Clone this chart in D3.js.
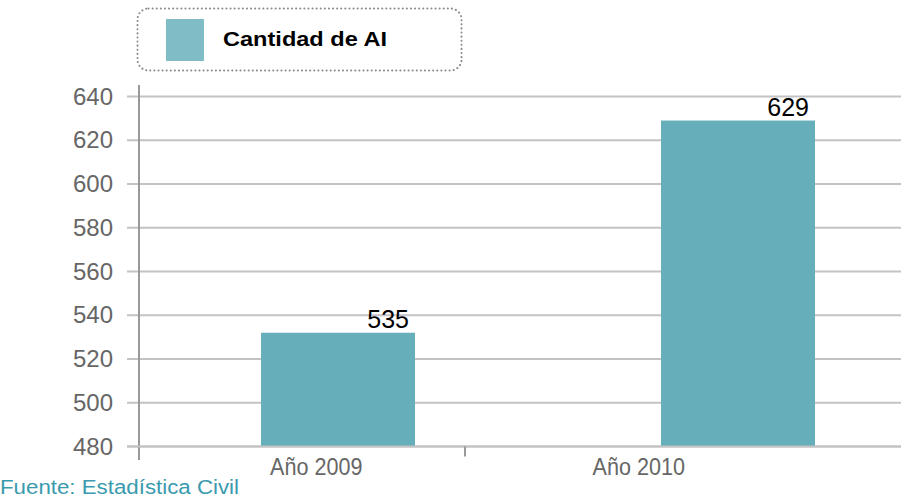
<!DOCTYPE html>
<html>
<head>
<meta charset="utf-8">
<script src="https://cdn.jsdelivr.net/npm/d3@7"></script>
<style>
  body { margin: 0; background: #fff; }
  svg { display: block; font-family: "Liberation Sans", Helvetica, Arial, sans-serif; }
</style>
</head>
<body>
<div id="chart"></div>
<script>
// Bar chart "Cantidad de AI"
var categories = ["Año 2009", "Año 2010"];
var barValues  = [532, 629];          // bar heights as drawn
var valueLabels = ["535", "629"];     // labels printed above the bars
var yTicks = [480, 500, 520, 540, 560, 580, 600, 620, 640];
var seriesName = "Cantidad de AI";
var sourceText = "Fuente: Estadística Civil";

var width = 901, height = 497;

var svg = d3.select("#chart").append("svg")
    .attr("width", width)
    .attr("height", height);

var y = d3.scaleLinear()
    .domain([480, 640])
    .range([446.5, 96.5]);

// bars
var xBar = d3.scaleBand()
    .domain(categories)
    .range([141, 935])
    .paddingInner(0.615)
    .paddingOuter(0.3);

// category labels sit a bit left of the bars
var xLabel = d3.scaleBand()
    .domain(categories)
    .range([155, 800]);

// gridlines
svg.append("g").selectAll("line")
    .data(yTicks)
    .join("line")
    .attr("x1", 127)
    .attr("x2", width)
    .attr("y1", function (d) { return y(d); })
    .attr("y2", function (d) { return y(d); })
    .style("stroke", "#c3c3c6")
    .style("stroke-width", 2);

// y axis
var yAxis = d3.axisLeft(y)
    .tickValues(yTicks)
    .tickSize(0)
    .tickPadding(26);

var gy = svg.append("g")
    .attr("transform", "translate(139,0)")
    .call(yAxis);
gy.select(".domain").remove();
gy.selectAll("text")
    .style("font-size", "24px")
    .style("fill", "#666")
    .style("font-family", "Liberation Sans, Helvetica, Arial, sans-serif");

svg.append("line")
    .attr("x1", 139).attr("x2", 139)
    .attr("y1", 85).attr("y2", 460)
    .style("stroke", "#999")
    .style("stroke-width", 2);

// bars
svg.append("g").selectAll("rect")
    .data(barValues)
    .join("rect")
    .attr("x", function (d, i) { return xBar(categories[i]); })
    .attr("width", xBar.bandwidth())
    .attr("y", function (d) { return y(d); })
    .attr("height", function (d) { return y(480) - y(d); })
    .style("fill", "#66aeba");

// value labels
svg.append("g").selectAll("text")
    .data(barValues)
    .join("text")
    .attr("x", function (d, i) { return xBar(categories[i]) + xBar.bandwidth() - 6; })
    .attr("y", function (d) { return y(d) - 5; })
    .attr("text-anchor", "end")
    .style("font-size", "25px")
    .style("fill", "#000")
    .text(function (d, i) { return valueLabels[i]; });

// x axis
svg.append("line")
    .attr("x1", 127).attr("x2", width)
    .attr("y1", y(480)).attr("y2", y(480))
    .style("stroke", "#c3c3c6")
    .style("stroke-width", 2);

svg.append("line")
    .attr("x1", 465).attr("x2", 465)
    .attr("y1", y(480)).attr("y2", y(480) + 10)
    .style("stroke", "#999")
    .style("stroke-width", 2);

// the category labels are a bit narrow in the original
svg.append("g").selectAll("text")
    .data(categories)
    .join("text")
    .attr("transform", function (d) {
      return "translate(" + (xLabel(d) + xLabel.bandwidth() / 2) + ",475) scale(0.88,1)";
    })
    .attr("text-anchor", "middle")
    .style("font-size", "24.5px")
    .style("fill", "#666")
    .text(function (d) { return d; });

// legend
var legend = svg.append("g");
legend.append("rect")
    .attr("x", 137.5).attr("y", 8.5)
    .attr("width", 324).attr("height", 62)
    .attr("rx", 11).attr("ry", 11)
    .style("fill", "none")
    .style("stroke", "#8a8a8a")
    .style("stroke-width", 2)
    .style("stroke-linecap", "round")
    .style("stroke-dasharray", "0.1,4");

legend.append("rect")
    .attr("x", 166).attr("y", 19)
    .attr("width", 38).attr("height", 42)
    .style("fill", "#80bcc6");

legend.append("text")
    .attr("x", 223).attr("y", 46)
    .attr("textLength", 164)
    .attr("lengthAdjust", "spacingAndGlyphs")
    .style("font-size", "21px")
    .style("font-weight", "bold")
    .style("fill", "#000")
    .text(seriesName);

// source
svg.append("text")
    .attr("x", 0).attr("y", 494)
    .attr("textLength", 239)
    .attr("lengthAdjust", "spacingAndGlyphs")
    .style("font-size", "19.5px")
    .style("fill", "#3a9aae")
    .text(sourceText);
</script>
</body>
</html>
